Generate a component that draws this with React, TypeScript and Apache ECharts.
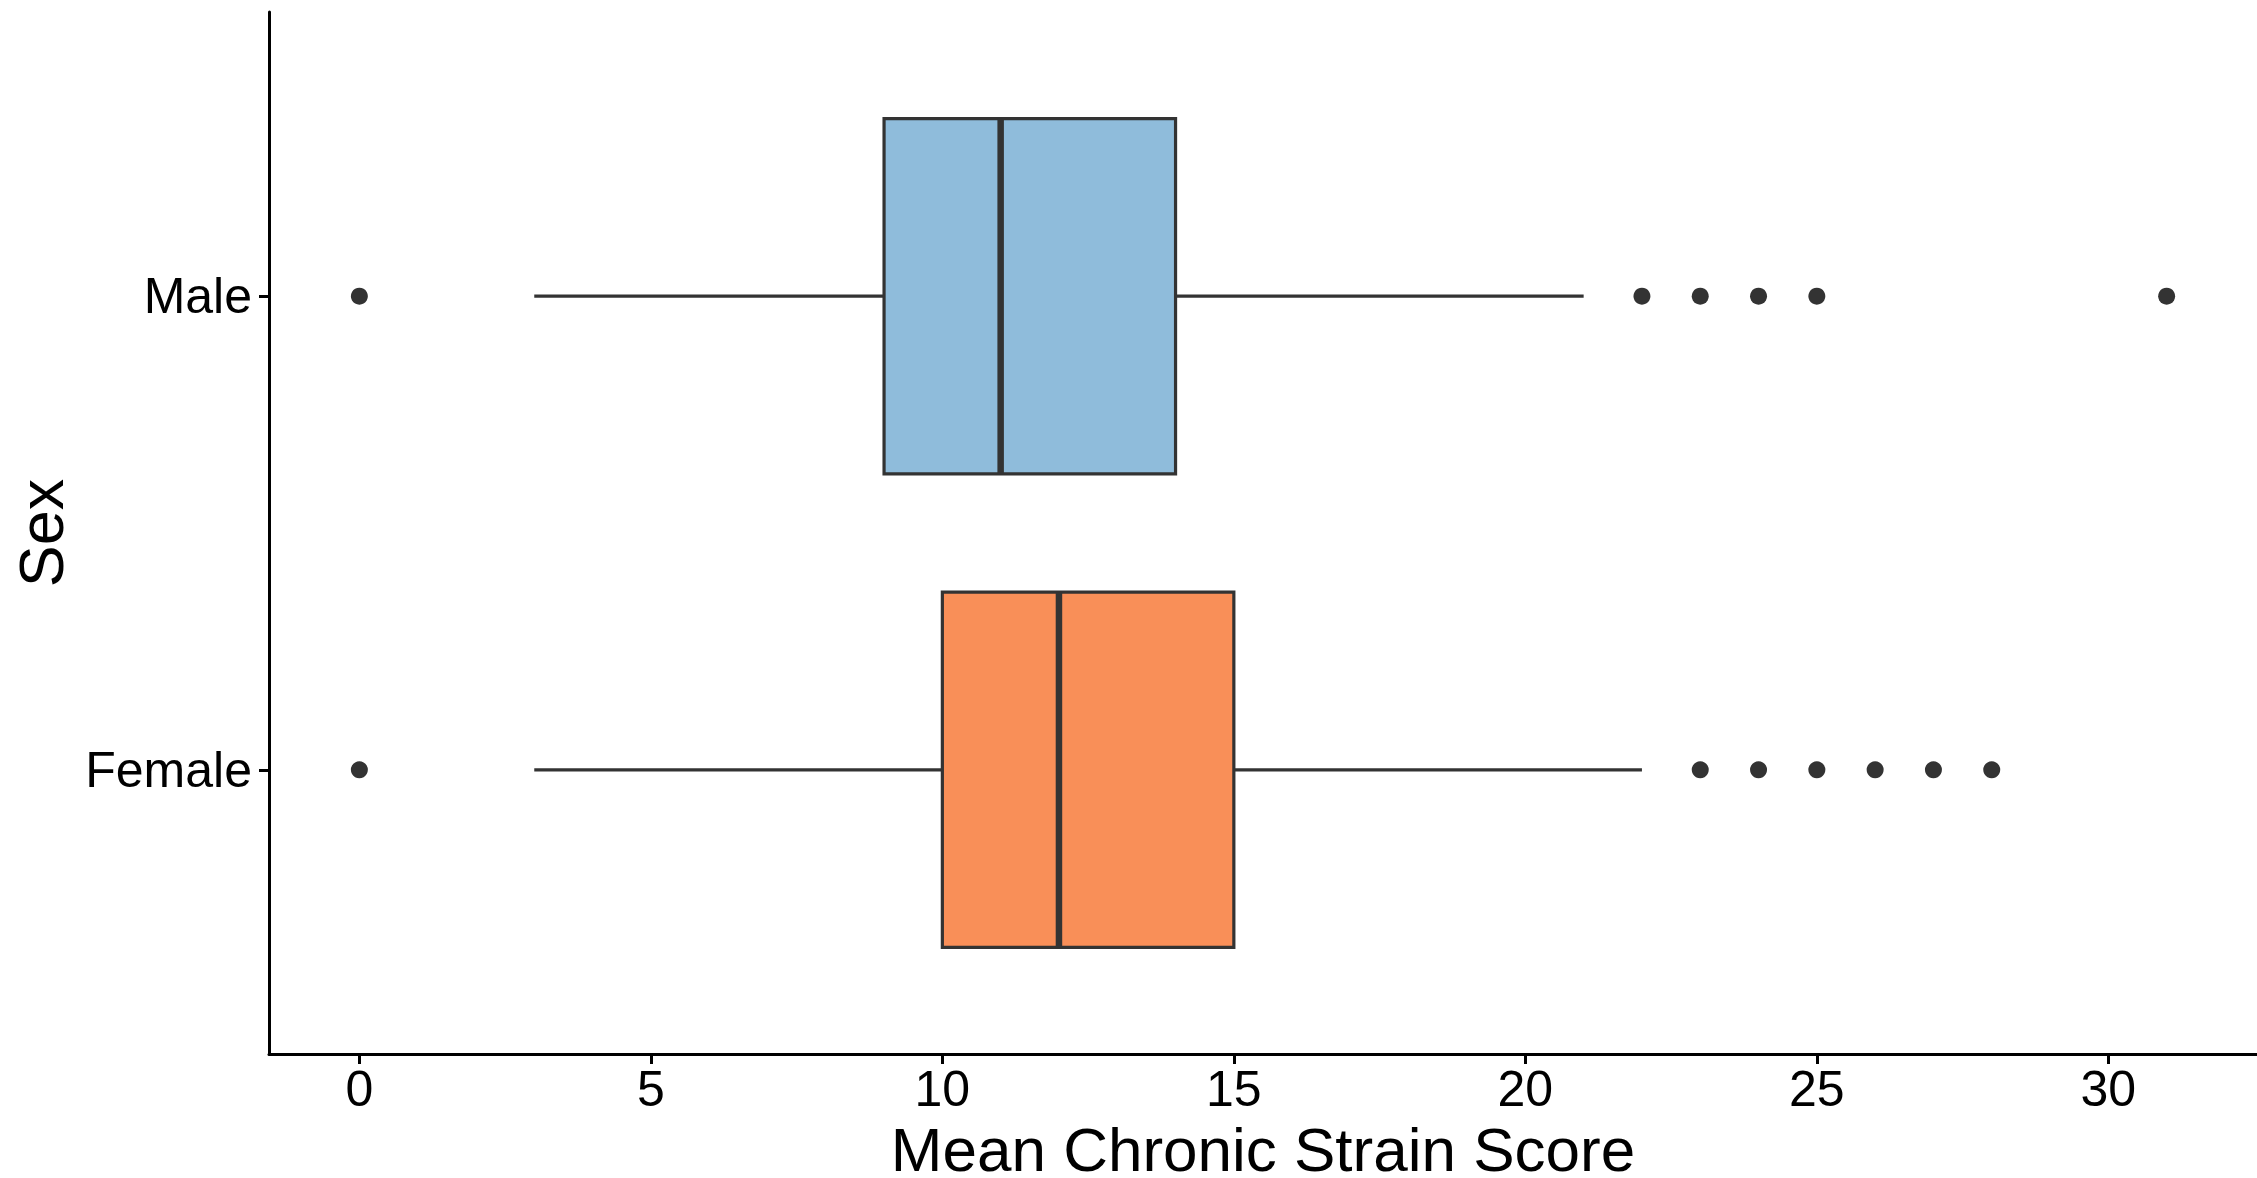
import React, { useEffect, useRef } from "react";
import * as echarts from "echarts";

const categories = ["Female", "Male"];
const lowWhisker = [3, 3];
const q1 = [10, 9];
const median = [12, 11];
const q3 = [15, 14];
const highWhisker = [22, 21];
const fillColors = ["#f98f58", "#8fbcdb"];
const femaleOutliers = [0, 23, 24, 25, 26, 27, 28];
const maleOutliers = [0, 22, 23, 24, 25, 31];
const xTicks = [0, 5, 10, 15, 20, 25, 30];

const FONT = "'Liberation Sans', Arial, Helvetica, sans-serif";

export default function App() {
  const ref = useRef<HTMLDivElement>(null);
  useEffect(() => {
    document.body.style.margin = "0";
    const chart = echarts.init(ref.current!, null, { renderer: "svg" });
    const boxData = categories.map((_, i) => [i + 1, lowWhisker[i], q1[i], median[i], q3[i], highWhisker[i]]);
    const outlierData = [...femaleOutliers.map((v) => [v, 1]), ...maleOutliers.map((v) => [v, 2])];
    const option: any = {
      animation: false,
      backgroundColor: "#ffffff",
      grid: { left: 269, right: 0, top: 12, bottom: 124, containLabel: false, outerBoundsMode: "none" },
      xAxis: {
        type: "value", min: -1.55, max: 32.55,
        name: "Mean Chronic Strain Score", nameLocation: "middle", nameGap: 50,
        nameTextStyle: { fontSize: 62, color: "#000", fontFamily: FONT },
        splitLine: { show: false },
        axisLine: { show: true, onZero: false, lineStyle: { color: "#000", width: 3 } },
        axisTick: { show: true, length: 10, customValues: xTicks, lineStyle: { color: "#000", width: 3 } },
        axisLabel: { customValues: xTicks, fontSize: 50, color: "#000", fontFamily: FONT, margin: 10 },
      },
      yAxis: {
        type: "value", min: 0.4, max: 2.6,
        name: "Sex", nameLocation: "middle", nameRotate: 90, nameGap: 197,
        nameTextStyle: { fontSize: 63, color: "#000", fontFamily: FONT },
        splitLine: { show: false },
        axisLine: { show: true, onZero: false, lineStyle: { color: "#000", width: 3 } },
        axisTick: { show: true, length: 10, customValues: [1, 2], lineStyle: { color: "#000", width: 3 } },
        axisLabel: {
          customValues: [1, 2],
          formatter: (v: number) => categories[Math.round(v) - 1] ?? "",
          fontSize: 50, color: "#000", fontFamily: FONT, margin: 17,
        },
      },
      series: [
        {
          type: "custom", data: boxData, encode: { x: [1, 2, 3, 4, 5], y: 0 },
          renderItem: (params: any, api: any) => {
            const cat = api.value(0);
            const lo = api.coord([api.value(1), cat]);
            const b1 = api.coord([api.value(2), cat]);
            const md = api.coord([api.value(3), cat]);
            const b3 = api.coord([api.value(4), cat]);
            const hi = api.coord([api.value(5), cat]);
            const h = api.size([0, 0.75])[1];
            const stroke = "#333333";
            return {
              type: "group",
              children: [
                { type: "line", shape: { x1: lo[0], y1: lo[1], x2: b1[0], y2: b1[1] }, style: { stroke, lineWidth: 3.2 } },
                { type: "line", shape: { x1: b3[0], y1: b3[1], x2: hi[0], y2: hi[1] }, style: { stroke, lineWidth: 3.2 } },
                { type: "rect", shape: { x: b1[0], y: md[1] - h / 2, width: b3[0] - b1[0], height: h }, style: { fill: fillColors[params.dataIndex], stroke, lineWidth: 3.2 } },
                { type: "line", shape: { x1: md[0], y1: md[1] - h / 2, x2: md[0], y2: md[1] + h / 2 }, style: { stroke, lineWidth: 6.5 } },
              ],
            };
          },
        },
        { type: "scatter", data: outlierData, symbol: "circle", symbolSize: 17, itemStyle: { color: "#333333", opacity: 1 } },
      ],
    };
    chart.setOption(option);
    return () => chart.dispose();
  }, []);
  return <div ref={ref} style={{ position: "fixed", left: 0, top: 0, width: 2257, height: 1178, background: "#fff" }} />;
}
